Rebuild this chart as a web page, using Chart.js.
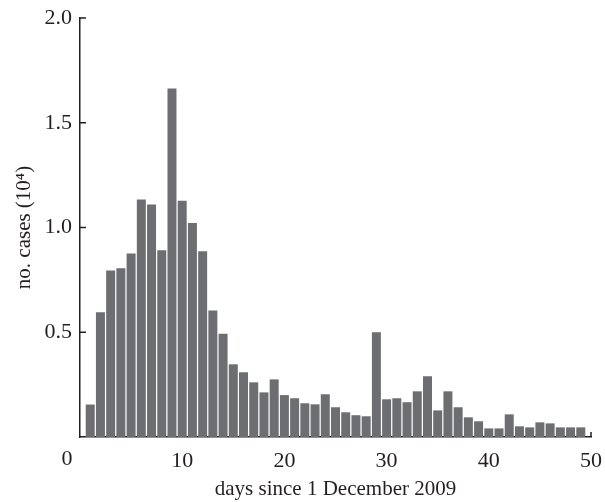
<!DOCTYPE html>
<html>
<head>
<meta charset="utf-8">
<script src="https://cdn.jsdelivr.net/npm/chart.js@4"></script>
<style>
  body { margin: 0; background: #fff; }
  #wrap { width: 605px; height: 502px; }
</style>
</head>
<body>
<div id="wrap"><canvas id="chart" width="605" height="502"></canvas></div>
<script>
// days since 1 December 2009
const days = [];
for (let d = 1; d <= 49; d++) days.push(d);

// no. cases (10^4)
const cases = [
    0.155, 0.596, 0.795, 0.805, 0.876, 1.134, 1.110, 0.891, 1.664, 1.128,
    1.021, 0.887, 0.604, 0.493, 0.347, 0.309, 0.261, 0.213, 0.275, 0.200,
    0.185, 0.161, 0.156, 0.204, 0.142, 0.118, 0.104, 0.099, 0.500, 0.180,
    0.185, 0.166, 0.218, 0.290, 0.127, 0.218, 0.142, 0.094, 0.075, 0.041,
    0.041, 0.108, 0.051, 0.046, 0.070, 0.065, 0.046, 0.046, 0.046
];

const xTicks = [0, 10, 20, 30, 40, 50];
const yTicks = [0.5, 1.0, 1.5, 2.0];

const ink = "#231f20";
const serif = "'Liberation Serif', 'DejaVu Serif', serif";

// short ticks drawn inward, plus the "0" that sits left of the y axis
const innerTicks = {
    id: "innerTicks",
    afterDraw(chart) {
        const ctx = chart.ctx;
        const x = chart.scales.x;
        const y = chart.scales.y;
        ctx.save();
        ctx.strokeStyle = ink;
        ctx.lineWidth = 1.5;
        yTicks.forEach(v => {
            const py = y.getPixelForValue(v);
            ctx.beginPath();
            ctx.moveTo(x.left, py);
            ctx.lineTo(x.left + 6, py);
            ctx.stroke();
        });
        const px = x.getPixelForValue(50);
        ctx.beginPath();
        ctx.moveTo(px, y.bottom);
        ctx.lineTo(px, y.bottom - 5);
        ctx.stroke();

        ctx.fillStyle = ink;
        ctx.font = "22px " + serif;
        ctx.textAlign = "center";
        ctx.textBaseline = "top";
        ctx.fillText("0", x.getPixelForValue(0) - 13, y.bottom + 11);
        ctx.restore();
    }
};

new Chart(document.getElementById("chart"), {
    type: "bar",
    data: {
        datasets: [{
            data: days.map((d, i) => ({ x: d, y: cases[i] })),
            backgroundColor: "#6d6e71",
            borderWidth: 0,
            barPercentage: 0.88,
            categoryPercentage: 1
        }]
    },
    options: {
        responsive: false,
        animation: false,
        layout: { padding: { top: 18, right: 14, left: 0, bottom: 0 } },
        plugins: {
            legend: { display: false },
            tooltip: { enabled: false }
        },
        scales: {
            x: {
                type: "linear",
                min: 0,
                max: 50,
                offset: false,
                grid: { display: false, drawTicks: false },
                border: { color: ink, width: 1.5 },
                afterFit: s => { s.height = 65; s.paddingLeft = 0; s.paddingRight = 0; },
                afterBuildTicks: s => { s.ticks = xTicks.map(v => ({ value: v })); },
                ticks: {
                    color: ink,
                    padding: 11,
                    maxRotation: 0,
                    font: { family: serif, size: 22 },
                    callback: v => v === 0 ? "" : String(v)
                },
                title: {
                    display: true,
                    text: "days since 1 December 2009",
                    color: ink,
                    padding: { top: 0, bottom: 0 },
                    font: { family: serif, size: 21 }
                }
            },
            y: {
                min: 0,
                max: 2,
                grid: { display: false, drawTicks: false },
                border: { color: ink, width: 1.5 },
                afterFit: s => { s.width = 80; s.paddingTop = 0; s.paddingBottom = 0; },
                afterBuildTicks: s => { s.ticks = [0].concat(yTicks).map(v => ({ value: v })); },
                ticks: {
                    color: ink,
                    padding: 8,
                    font: { family: serif, size: 22 },
                    callback: v => v === 0 ? "" : v.toFixed(1)
                },
                title: {
                    display: true,
                    text: "no. cases (10⁴)",
                    color: ink,
                    padding: { top: 12, bottom: 0 },
                    font: { family: serif, size: 21 }
                }
            }
        }
    },
    plugins: [innerTicks]
});
</script>
</body>
</html>
